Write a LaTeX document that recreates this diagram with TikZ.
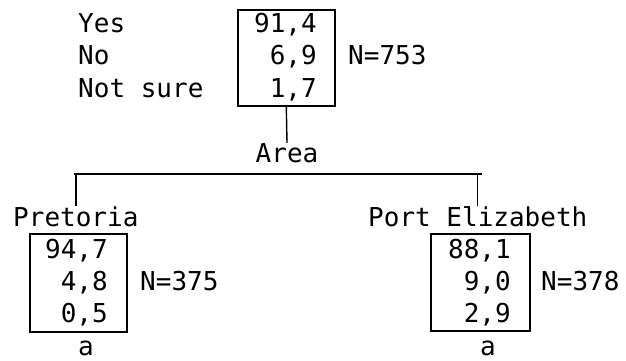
\documentclass[tikz,border=0pt]{standalone}
\usepackage{fontspec}
\setmonofont{DejaVu Sans Mono}
\begin{document}
\begin{tikzpicture}[x=1pt,y=-1pt,
  lbl/.style={inner sep=0pt, font=\ttfamily\fontsize{26}{32}\selectfont},
  num/.style={lbl, anchor=base east},
  txt/.style={lbl, anchor=base west},
  box/.style={draw, line width=1.6pt, inner sep=0pt, anchor=north west},
  link/.style={line width=1.4pt}]
\useasboundingbox (0,0) rectangle (626,361);

% root node: answer labels, percentages and sample size
\node[txt] (yes)  at (78,33) {Yes};
\node[txt] (no)   at (78,65) {No};
\node[txt] (ns)   at (78,97) {Not sure};
\node[box, minimum width=97pt, minimum height=96pt] (topbox) at (237,9) {};
\node[num] (t1) at (317,33) {91,4};
\node[num] (t2) at (317,65) {6,9};
\node[num] (t3) at (317,97) {1,7};
\node[txt] (tn) at (348,65) {N=753};

% splitting variable
\node[lbl, anchor=base] (area) at (287,162) {Area};
\draw[link] (topbox.south) -- (area.north);
\coordinate (barL) at (74,174);
\coordinate (barR) at (482,174);
\draw[link] (barL) -- (barR);

% left child: Pretoria
\node[txt] (pta) at (13,226) {Pretoria};
\node[box, minimum width=97pt, minimum height=98pt] (lbox) at (29,233) {};
\node[num] (l1) at (108,258) {94,7};
\node[num] (l2) at (108,290) {4,8};
\node[num] (l3) at (108,322) {0,5};
\node[txt] (ln) at (140,290) {N=375};
\node[lbl, anchor=base] (la) at (86,355) {a};

% right child: Port Elizabeth
\node[txt] (pe) at (368,226) {Port Elizabeth};
\node[box, minimum width=99pt, minimum height=97pt] (rbox) at (430,233) {};
\node[num] (r1) at (511,258) {88,1};
\node[num] (r2) at (511,290) {9,0};
\node[num] (r3) at (511,322) {2,9};
\node[txt] (rn) at (541,290) {N=378};
\node[lbl, anchor=base] (ra) at (488,355) {a};

% drops from the bar to the child labels
\draw[link] (pta.north |- barL) -- (pta.north);
\draw[link] (pe.north |- barR) -- (pe.north);
\end{tikzpicture}
\end{document}
